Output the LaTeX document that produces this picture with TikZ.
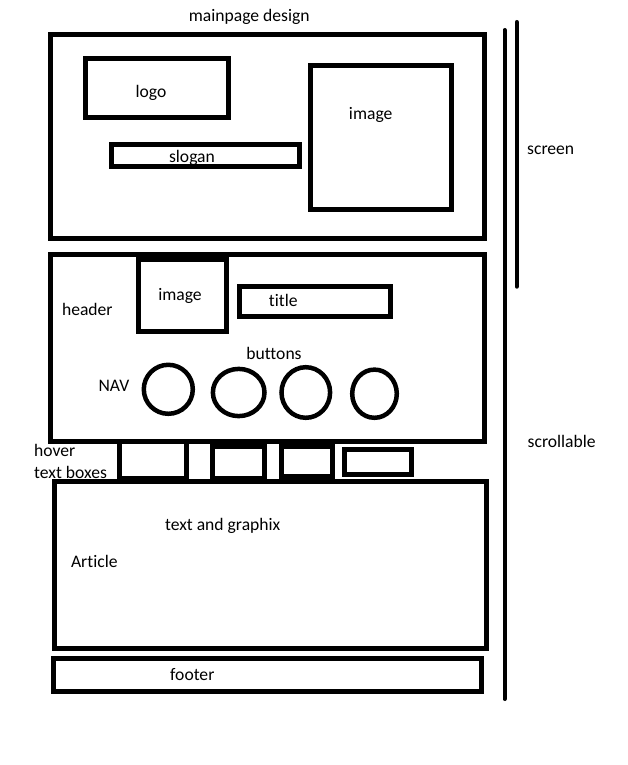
\documentclass[tikz,border=0pt]{standalone}
\usepackage{fontspec}
\setmainfont{Carlito}[Ligatures=NoCommon]
\begin{document}
\begin{tikzpicture}[x=1pt,y=-1pt,
  box/.style={draw=black,line width=5pt,line join=miter},
  btn/.style={draw=black,line width=4.5pt},
  bar/.style={draw=black,line width=4pt,line cap=round},
  lbl/.style={anchor=base,inner sep=0pt,font=\fontsize{17.6}{20}\selectfont},
  lbll/.style={anchor=base west,inner sep=0pt,font=\fontsize{17.6}{20}\selectfont}]
\useasboundingbox[fill=white] (0,0) rectangle (627,765);
% top screen area
\draw[box] (50.5,34.5) rectangle (484,238.5);
\draw[box] (85.5,58.8) rectangle (228.3,118);
\draw[box] (111.5,144.7) rectangle (299,166.8);
\draw[box] (310.5,65.5) rectangle (451.3,209);
% header
\draw[box] (50.5,254) rectangle (484,441.5);
\draw[box] (138.8,259.7) rectangle (226.3,331.8);
\draw[box] (239,286.7) rectangle (390.2,316.5);
% buttons
\draw[btn] (168.3,389.3) ellipse [x radius=24.5,y radius=24.5];
\draw[btn] (238.7,392.5) ellipse [x radius=25.8,y radius=23.6];
\draw[btn] (305.8,392.5) ellipse [x radius=24.3,y radius=25.3];
\draw[btn] (374.5,393.7) ellipse [x radius=22.3,y radius=24.1];
% hover text boxes
\draw[box] (119.2,441.5) rectangle (186.3,478.5);
\draw[box] (212.8,446) rectangle (264,478);
\draw[box] (281.3,446) rectangle (332.5,476);
\draw[box] (344.2,449.2) rectangle (411.5,474.2);
% article and footer
\draw[box] (54.5,481.7) rectangle (486.7,648.3);
\draw[box] (53.2,658.5) rectangle (481.5,691.3);
% screen / scrollable bars
\coordinate (s1) at (516.7,22);
\coordinate (s2) at (516.7,286.7);
\coordinate (c1) at (504.5,30);
\coordinate (c2) at (504.5,699);
\draw[bar] (s1) -- (s2);
\draw[bar] (c1) -- (c2);
% labels
\node[lbl] (title0) at (249.3,21.5) {mainpage design};
\node[lbl] (logo) at (151,98) {logo};
\node[lbl] (slogan) at (192,162.4) {slogan};
\node[lbl] (img1) at (370.7,120) {image};
\node[lbl] (screen) at (550.7,154) {screen};
\node[lbl] (header) at (87.3,315.7) {header};
\node[lbl] (img2) at (180,300) {image};
\node[lbl] (titl) at (283.3,306.7) {title};
\node[lbl] (buttons) at (274,359) {buttons};
\node[lbl] (nav) at (114,391.4) {NAV};
\node[lbl] (scroll) at (561.7,447.4) {scrollable};
\node[lbll] (hover) at (34,456) {hover};
\node[lbll] (tboxes) at (34,478) {text boxes};
\node[lbl] (tg) at (222.7,530.7) {text and graphix};
\node[lbl] (article) at (94.3,567.4) {Article};
\node[lbl] (footer) at (192.3,680.7) {footer};
\end{tikzpicture}
\end{document}
